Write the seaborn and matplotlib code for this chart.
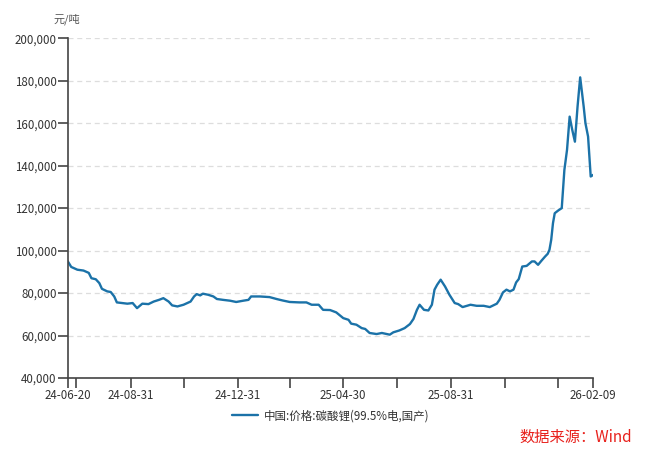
import pandas as pd
import matplotlib
matplotlib.use("Agg")
import matplotlib.pyplot as plt
import matplotlib.ticker as mticker
import seaborn as sns

# carbonate lithium price
dates = [
    "2024-06-20", "2024-06-24", "2024-07-01", "2024-07-08", "2024-07-14", "2024-07-17",
    "2024-07-22", "2024-07-26", "2024-07-29", "2024-08-04", "2024-08-08", "2024-08-12",
    "2024-08-15", "2024-08-21", "2024-08-27", "2024-09-02", "2024-09-07", "2024-09-13",
    "2024-09-20", "2024-09-26", "2024-10-02", "2024-10-07", "2024-10-13", "2024-10-17",
    "2024-10-23", "2024-10-30", "2024-11-07", "2024-11-11", "2024-11-14", "2024-11-18",
    "2024-11-21", "2024-11-27", "2024-12-03", "2024-12-07", "2024-12-14", "2024-12-22",
    "2024-12-29", "2025-01-06", "2025-01-12", "2025-01-15", "2025-01-25", "2025-02-05",
    "2025-02-13", "2025-02-20", "2025-02-28", "2025-03-11", "2025-03-19", "2025-03-25",
    "2025-04-02", "2025-04-07", "2025-04-15", "2025-04-22", "2025-04-30", "2025-05-06",
    "2025-05-09", "2025-05-15", "2025-05-21", "2025-05-25", "2025-05-30", "2025-06-07",
    "2025-06-13", "2025-06-22", "2025-06-26", "2025-07-03", "2025-07-09", "2025-07-15",
    "2025-07-19", "2025-07-23", "2025-07-26", "2025-07-31", "2025-08-05", "2025-08-09",
    "2025-08-12", "2025-08-15", "2025-08-19", "2025-08-24", "2025-08-29", "2025-09-04",
    "2025-09-08", "2025-09-13", "2025-09-18", "2025-09-22", "2025-09-29", "2025-10-07",
    "2025-10-14", "2025-10-22", "2025-10-25", "2025-10-29", "2025-11-02", "2025-11-06",
    "2025-11-10", "2025-11-13", "2025-11-16", "2025-11-20", "2025-11-25", "2025-12-01",
    "2025-12-04", "2025-12-08", "2025-12-12", "2025-12-16", "2025-12-19", "2025-12-21",
    "2025-12-23", "2025-12-25", "2025-12-27", "2025-12-31", "2026-01-04", "2026-01-07",
    "2026-01-10", "2026-01-13", "2026-01-16", "2026-01-19", "2026-01-22", "2026-01-25",
    "2026-01-29", "2026-01-31", "2026-02-03", "2026-02-06", "2026-02-09",
]
prices = [
    95000, 92300, 91000, 90600, 89500, 87000,
    86500, 84700, 82000, 80800, 80500, 78400,
    75600, 75300, 75000, 75300, 72900, 75000,
    74800, 76000, 76800, 77600, 76000, 74200,
    73700, 74500, 76000, 78400, 79500, 78900,
    79700, 79200, 78400, 77200, 76800, 76400,
    75800, 76400, 76800, 78400, 78400, 78100,
    77200, 76500, 75800, 75600, 75600, 74500,
    74500, 72100, 72000, 70900, 68200, 67400,
    65600, 65100, 63500, 63100, 61200, 60700,
    61200, 60400, 61500, 62400, 63500, 65400,
    67800, 72100, 74500, 72100, 71800, 74500,
    81600, 83900, 86300, 83100, 79200, 75300,
    74800, 73400, 74000, 74500, 74000, 74000,
    73400, 75000, 76800, 80300, 81600, 80800,
    81600, 85000, 86600, 92500, 92800, 94900,
    94900, 93300, 95300, 97200, 98500, 100400,
    105100, 112900, 117600, 118900, 120000, 138000,
    147400, 163100, 156800, 151300, 167800, 181600,
    167800, 160000, 153700, 134900, 135700,
]

tick_dates = ["2024-06-20", "2024-06-30", "2024-08-31", "2024-10-31", "2024-12-31",
              "2025-02-28", "2025-04-30", "2025-06-30", "2025-08-31", "2025-10-31",
              "2025-12-31", "2026-02-09"]
tick_labels = ["24-06-20", "", "24-08-31", "", "24-12-31", "", "25-04-30", "",
               "25-08-31", "", "", "26-02-09"]

series_name = "中国:价格:碳酸锂(99.5%电,国产)"

df = pd.DataFrame({"date": pd.to_datetime(dates), "price": prices})

sns.set_theme(style="white")
plt.rcParams["font.family"] = ["Noto Sans CJK SC", "DejaVu Sans"]

fig = plt.figure(figsize=(6.6, 4.58), dpi=100)
ax = fig.add_axes([0.1026, 0.1747, 0.7964, 0.7417])

sns.lineplot(data=df, x="date", y="price", color="#1b72a8", linewidth=1.7,
             label=series_name, ax=ax)

ax.set_xlim(pd.Timestamp(dates[0]), pd.Timestamp(dates[-1]))
ax.set_ylim(40000, 200000)
ax.yaxis.set_major_locator(mticker.MultipleLocator(20000))
ax.yaxis.set_major_formatter(mticker.FuncFormatter(lambda v, p: f"{int(v):,}"))
ax.set_xticks(pd.to_datetime(tick_dates))
ax.set_xticklabels(tick_labels)

ax.grid(axis="y", color="#dddddd", linestyle=(0, (4, 3)), linewidth=0.9)
ax.set_axisbelow(True)
for side in ["top", "right"]:
    ax.spines[side].set_visible(False)
for side in ["left", "bottom"]:
    ax.spines[side].set_color("#444444")
    ax.spines[side].set_linewidth(1.2)
ax.tick_params(axis="both", length=7, width=1.2, color="#444444",
               labelsize=8.3, labelcolor="#333333", pad=1, direction="out",
               bottom=True, left=True)
ax.set_xlabel("")
ax.set_ylabel("")

fig.text(0.1015, 0.958, "元/吨", ha="center", va="center", fontsize=8, color="#555555")

leg = ax.legend(loc="upper center", bbox_to_anchor=(0.5, -0.062), frameon=False,
                fontsize=8.3, handlelength=2.3, handletextpad=0.5)
for t in leg.get_texts():
    t.set_color("#333333")

fig.text(0.958, 0.046, "数据来源：Wind", ha="right", va="center", fontsize=11,
         color="#e8211c")

fig.savefig("out.png", dpi=100)
